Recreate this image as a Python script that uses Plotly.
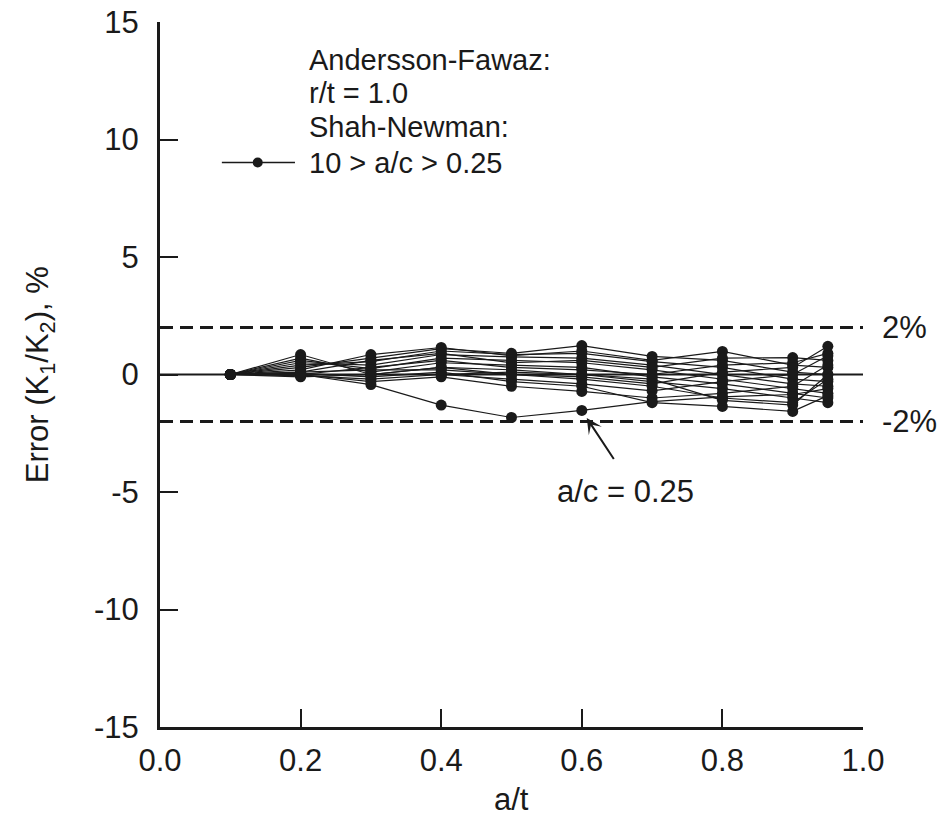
import plotly.graph_objects as go

# a/t positions of the computed points
a_over_t = [0.1, 0.2, 0.3, 0.4, 0.5, 0.6, 0.7, 0.8, 0.9, 0.95]

# Error (%) of each a/c curve
err_ac_025 = [0, 0.00, -0.43, -1.30, -1.83, -1.53, -1.15, -0.95, -0.85, -0.60]
err_c02 = [0, 0.85, 0.00, 0.30, 0.20, 0.00, -0.30, -0.60, -1.00, -1.20]
err_c03 = [0, 0.70, 0.10, 0.50, 0.40, 0.30, -0.10, -0.40, -0.80, -1.00]
err_c04 = [0, 0.60, 0.25, 0.70, 0.60, 0.50, 0.20, -0.20, -0.60, -0.80]
err_c05 = [0, 0.50, 0.40, 0.85, 0.75, 0.70, 0.40, 0.00, -0.40, -0.50]
err_c06 = [0, 0.40, 0.55, 1.00, 0.85, 0.90, 0.55, 0.30, -0.20, -0.30]
err_c07 = [0, 0.30, 0.70, 1.10, 0.90, 1.23, 0.77, 0.60, 0.10, 0.00]
err_c08 = [0, 0.20, 0.85, 1.15, 0.80, 1.00, 0.60, 0.98, 0.40, 0.30]
err_c09 = [0, 0.10, 0.60, 0.90, 0.50, 0.60, 0.30, 0.70, 0.72, 0.60]
err_c10 = [0, 0.00, 0.30, 0.60, 0.30, 0.20, 0.00, 0.40, 0.50, 0.90]
err_c11 = [0, -0.10, 0.00, 0.30, 0.00, -0.10, -0.40, 0.10, 0.30, 1.20]
err_c12 = [0, -0.05, -0.20, 0.00, -0.20, -0.40, -0.70, -0.30, 0.00, 0.80]
err_c13 = [0, 0.00, -0.30, -0.10, -0.50, -0.72, -1.00, -0.80, -0.50, 0.40]
err_c14 = [0, 0.05, -0.10, 0.10, -0.30, -0.50, -1.20, -1.36, -1.57, -0.90]
err_c15 = [0, 0.00, 0.00, 0.00, 0.10, 0.00, -0.20, -1.10, -1.30, 0.00]
err_c16 = [0, 0.10, 0.20, 0.20, 0.00, -0.20, -0.50, -1.00, -1.20, -0.20]

curves = [err_ac_025, err_c02, err_c03, err_c04, err_c05, err_c06, err_c07, err_c08,
          err_c09, err_c10, err_c11, err_c12, err_c13, err_c14, err_c15, err_c16]

limit_pct = [2, -2]
limit_labels = ["2%", "-2%"]
x_ticks = [0.0, 0.2, 0.4, 0.6, 0.8, 1.0]
x_ticktext = ["0.0", "0.2", "0.4", "0.6", "0.8", "1.0"]
y_ticks = [-15, -10, -5, 0, 5, 10, 15]
y_ticktext = ["-15", "-10", "-5", "0", "5", "10", "15"]

FONT = "Liberation Sans, Arial, sans-serif"
INK = "#1a1a1a"

fig = go.Figure()

# reference lines: zero (solid) and +/-2% (dashed)
fig.add_trace(go.Scatter(x=[0, 1], y=[0, 0], mode="lines",
                         line=dict(color=INK, width=2), showlegend=False, hoverinfo="skip"))
for v in limit_pct:
    fig.add_trace(go.Scatter(x=[0, 1], y=[v, v], mode="lines",
                             line=dict(color=INK, width=3, dash="13px,7px"),
                             showlegend=False, hoverinfo="skip"))

for c in curves:
    fig.add_trace(go.Scatter(x=a_over_t, y=c, mode="lines+markers",
                             line=dict(color=INK, width=1.2),
                             marker=dict(color=INK, size=11),
                             showlegend=False))

annotations = []
# limit labels
for v, t in zip(limit_pct, limit_labels):
    annotations.append(dict(x=1.0, y=v, xref="x", yref="y", text=t, showarrow=False,
                            xanchor="left", xshift=17, font=dict(size=31, color=INK, family=FONT)))

# arrow and label for a/c = 0.25
annotations.append(dict(x=0.6, y=err_ac_025[5], xref="x", yref="y", text="",
                        showarrow=True, arrowhead=3, arrowsize=1.3, arrowwidth=2,
                        arrowcolor=INK, ax=33, ay=50, standoff=9))
annotations.append(dict(x=0.6, y=err_ac_025[5], xref="x", yref="y", text="a/c = 0.25",
                        showarrow=False, xanchor="center", yanchor="middle",
                        xshift=44, yshift=-81, font=dict(size=31, color=INK, family=FONT)))

# legend text
legend_lines = ["Andersson-Fawaz:", "r/t = 1.0", "Shah-Newman:", "10 > a/c > 0.25"]
legend_y = [13.4, 11.96, 10.55, 9.02]
for t, yy in zip(legend_lines, legend_y):
    annotations.append(dict(x=0.209, y=yy, xref="x", yref="y", text=t, showarrow=False,
                            xanchor="left", yanchor="middle",
                            font=dict(size=29, color=INK, family=FONT)))

# axis titles
annotations.append(dict(x=0.5, y=-0.103, xref="paper", yref="paper", text="a/t",
                        showarrow=False, xanchor="center", yanchor="middle",
                        font=dict(size=31, color=INK, family=FONT)))
annotations.append(dict(x=-0.171, y=0.5, xref="paper", yref="paper",
                        text="Error (K<sub>1</sub>/K<sub>2</sub>), %", textangle=-90,
                        showarrow=False, xanchor="center", yanchor="middle",
                        font=dict(size=31, color=INK, family=FONT)))

shapes = [
    dict(type="line", xref="x", yref="y", x0=0.088, x1=0.192, y0=legend_y[-1], y1=legend_y[-1],
         line=dict(color=INK, width=1.5)),
    dict(type="circle", xref="x", yref="y", xsizemode="pixel", ysizemode="pixel",
         xanchor=0.139, yanchor=legend_y[-1], x0=-5, x1=5, y0=-5, y1=5,
         fillcolor=INK, line=dict(color=INK, width=0)),
]

fig.update_layout(
    width=946, height=834,
    margin=dict(l=160, r=83, t=22, b=107, autoexpand=False),
    plot_bgcolor="white", paper_bgcolor="white",
    font=dict(family=FONT, size=31, color=INK),
    annotations=annotations, shapes=shapes,
    showlegend=False,
)
fig.update_xaxes(range=[0, 1], tickvals=x_ticks, ticktext=x_ticktext,
                 showline=True, linecolor=INK, linewidth=3, mirror=False,
                 ticks="inside", ticklen=18, tickwidth=2, tickcolor=INK,
                 ticklabelstandoff=4, ticklabeloverflow="allow", automargin=False,
                 showgrid=False, zeroline=False, tickfont=dict(size=31))
fig.update_yaxes(range=[-15, 15], tickvals=y_ticks, ticktext=y_ticktext,
                 showline=True, linecolor=INK, linewidth=3, mirror=False,
                 ticks="inside", ticklen=18, tickwidth=2, tickcolor=INK,
                 ticklabelstandoff=12, ticklabeloverflow="allow", automargin=False,
                 showgrid=False, zeroline=False, tickfont=dict(size=31))

# remove the default page margin so the 946x834 figure fills the window exactly
fig.write_html("out.html", config={"displayModeBar": False},
               post_script="document.body.style.margin='0';document.body.style.overflow='hidden';")
